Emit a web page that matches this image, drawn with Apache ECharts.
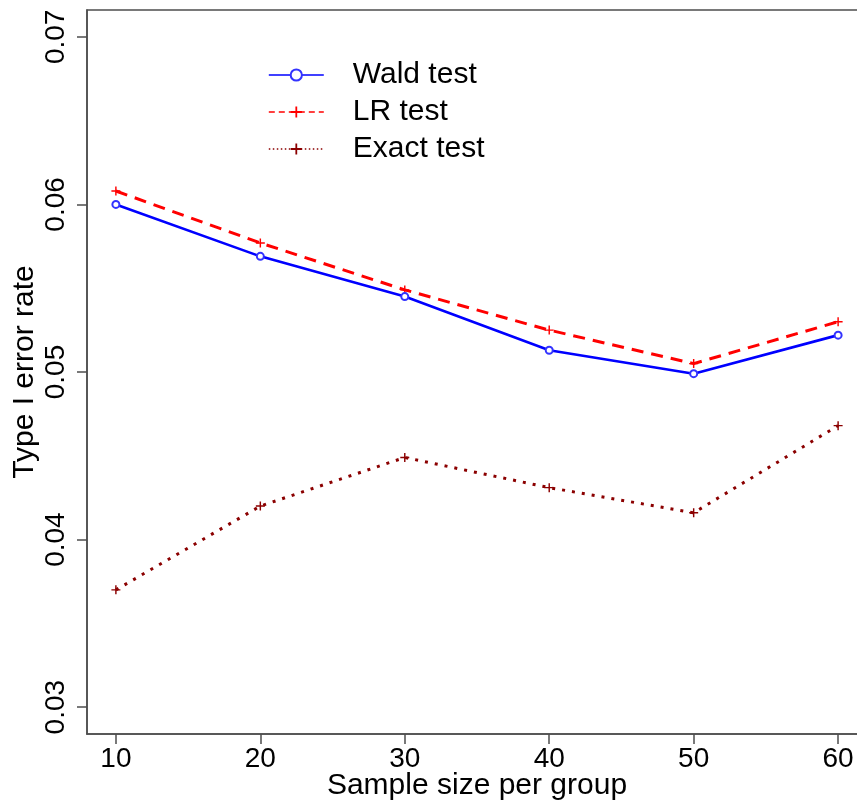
<!DOCTYPE html>
<html>
<head>
<meta charset="utf-8">
<script src="https://cdn.jsdelivr.net/npm/echarts@6/dist/echarts.min.js"></script>
<style>
  html, body { margin: 0; padding: 0; background: #fff; }
  #chart { width: 857px; height: 804px; }
</style>
</head>
<body>
<div id="chart"></div>
<script>
// Sample sizes per group (x) and Type I error rates of the three tests
const sampleSizes = [10, 20, 30, 40, 50, 60];
const waldRate  = [0.0600, 0.0569, 0.0545, 0.0513, 0.0499, 0.0522];
const lrRate    = [0.0608, 0.0577, 0.0549, 0.0525, 0.0505, 0.0530];
const exactRate = [0.0370, 0.0420, 0.0449, 0.0431, 0.0416, 0.0468];

// Tick positions
const xTicks = [10, 20, 30, 40, 50, 60];
const yTicks = [0.03, 0.04, 0.05, 0.06, 0.07];

const pairs = (xs, ys) => xs.map((x, i) => [x, ys[i]]);

const FONT = 'Liberation Sans, Arial, sans-serif';
const AXIS_COLOR = '#4d4d4d';
const PLUS = 'path://M4.2,0H5.8V4.2H10V5.8H5.8V10H4.2V5.8H0V4.2H4.2Z';

const chart = echarts.init(document.getElementById('chart'), null, { renderer: 'canvas' });

chart.setOption({
  backgroundColor: '#ffffff',
  animation: false,
  textStyle: { fontFamily: FONT, color: '#000' },
  grid: {
    left: 87, top: 10, width: 780, height: 724,
    show: true, borderColor: AXIS_COLOR, borderWidth: 1.5, backgroundColor: 'transparent',
    containLabel: false, outerBoundsMode: 'none'
  },
  legend: {
    orient: 'vertical',
    left: 268, top: 60, padding: 0,
    itemWidth: 55, itemHeight: 14, itemGap: 7,
    textStyle: { fontFamily: FONT, fontSize: 30, color: '#000', lineHeight: 30, padding: [0, 0, 0, 24] },
    data: [
      { name: 'Wald test', lineStyle: { width: 1.6, type: 'solid' } },
      { name: 'LR test', lineStyle: { width: 1.4, type: [6, 4] } },
      { name: 'Exact test', lineStyle: { width: 1.4, type: [1.5, 2.5] } }
    ]
  },
  xAxis: {
    type: 'value', min: 8, max: 62,
    name: 'Sample size per group', nameLocation: 'middle', nameGap: 37, nameMoveOverlap: false,
    nameTextStyle: { fontFamily: FONT, fontSize: 30, color: '#000' },
    axisLine: { show: true, lineStyle: { color: AXIS_COLOR, width: 1.5 } },
    axisTick: { show: true, length: 10, lineStyle: { color: AXIS_COLOR, width: 1.5 }, customValues: xTicks },
    axisLabel: { fontFamily: FONT, fontSize: 28, color: '#000', margin: 11, customValues: xTicks },
    splitLine: { show: false }
  },
  yAxis: {
    type: 'value', min: 0.0284, max: 0.0716,
    name: 'Type I error rate', nameLocation: 'middle', nameGap: 47, nameMoveOverlap: false,
    nameTextStyle: { fontFamily: FONT, fontSize: 30, color: '#000' },
    axisLine: { show: true, lineStyle: { color: AXIS_COLOR, width: 1.5 } },
    axisTick: { show: true, length: 10, lineStyle: { color: AXIS_COLOR, width: 1.5 }, customValues: yTicks },
    axisLabel: { fontFamily: FONT, fontSize: 28, color: '#000', margin: 17, rotate: 90, customValues: yTicks,
                 formatter: v => v.toFixed(2) },
    splitLine: { show: false }
  },
  series: [
    {
      name: 'Wald test', type: 'line', data: pairs(sampleSizes, waldRate),
      symbol: 'emptyCircle', symbolSize: 7,
      lineStyle: { color: '#0000ff', width: 2.6, type: 'solid' },
      itemStyle: { color: '#3333ff', borderColor: '#3333ff', borderWidth: 1.4 },
      z: 3
    },
    {
      name: 'LR test', type: 'line', data: pairs(sampleSizes, lrRate),
      symbol: PLUS, symbolSize: 9,
      lineStyle: { color: '#ff0000', width: 3, type: [12, 8] },
      itemStyle: { color: '#ff0000' },
      z: 2
    },
    {
      name: 'Exact test', type: 'line', data: pairs(sampleSizes, exactRate),
      symbol: PLUS, symbolSize: 9,
      lineStyle: { color: '#8b0000', width: 3, type: [3, 7] },
      itemStyle: { color: '#8b0000' },
      z: 2
    }
  ]
});
</script>
</body>
</html>
